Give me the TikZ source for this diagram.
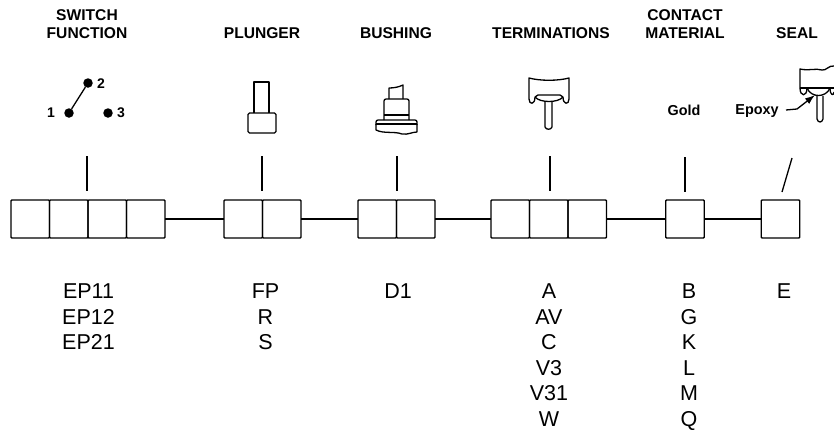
\documentclass[tikz,border=0pt]{standalone}
\usepackage{fontspec}
\setmainfont{Liberation Sans}
\usetikzlibrary{arrows.meta,positioning}
\tikzset{
  cell/.style={draw,line width=1.4pt,rounded corners=0.8pt,minimum width=38.5pt,minimum height=38pt,inner sep=0pt,outer sep=0pt},
  link/.style={line width=1.3pt},
  tick/.style={line width=1.3pt},
  heading/.style={font=\bfseries\fontsize{15.6}{18}\selectfont,align=center,inner sep=0pt},
  codes/.style={font=\fontsize{21.5}{25.5}\selectfont,align=center,inner sep=0pt,anchor=north},
  remark/.style={font=\bfseries\fontsize{14.4}{18}\selectfont,inner sep=0pt},
  digit/.style={font=\bfseries\fontsize{14}{16}\selectfont,inner sep=0pt},
  dot/.style={circle,fill=black,minimum size=9.5pt,inner sep=0pt},
  icon/.style={line width=1.3pt,line join=round},
}
\begin{document}
\begin{tikzpicture}[x=1pt,y=-1pt]
    \useasboundingbox (0,0) rectangle (834,429);
    % headings
    \node[heading] (hswitch) at (87,24) {SWITCH\\FUNCTION};
    \node[heading] (hplunger) at (262,33) {PLUNGER};
    \node[heading] (hbushing) at (396,33) {BUSHING};
    \node[heading] (hterm) at (551,33) {TERMINATIONS};
    \node[heading] (hcontact) at (685,24) {CONTACT\\MATERIAL};
    \node[heading] (hseal) at (797,33) {SEAL};
    % switch symbol
    \node[dot] (one) at (69,113) {};
    \node[dot] (two) at (88,83) {};
    \node[dot] (three) at (108,113) {};
    \draw[icon] (one) -- (two);
    \node[digit] (lone) at (51,113) {1};
    \node[digit] (ltwo) at (101,84) {2};
    \node[digit] (lthree) at (121,113) {3};
    % plunger
    \draw[icon] (254,113) -- (254,82) -- (269,82) -- (269,113);
    \draw[icon,rounded corners=1.5pt] (248,113) rectangle (276,133);
    % bushing
    \draw[icon] (389,99) -- (389,88) .. controls (394,88) and (399,87) .. (403,85) -- (403,99);
    \draw[icon,rounded corners=2pt] (384,120) -- (384,99) -- (409,99) -- (409,120);
    \draw[icon] (384,115) -- (409,115);
    \draw[icon,rounded corners=2pt] (376,125) -- (376,120) -- (417,120) -- (417,125);
    \draw[icon] (376,124) -- (417,124);
    \draw[icon] (376,124) -- (376,130) .. controls (384,134) and (394,131) .. (402,134) .. controls (408,135) and (412,132) .. (417,132) -- (417,124);
    % terminations
    \draw[icon] (529,99) -- (529,78) .. controls (540,81) and (558,81) .. (569,78) -- (569,99);
    \draw[icon] (529,99) .. controls (529,105) and (535,105) .. (535,97);
    \draw[icon] (563,97) .. controls (563,105) and (569,105) .. (569,99);
    \draw[icon] (535,97) -- (538,95) -- (560,95) -- (563,97);
    \draw[icon] (535,97) .. controls (540,103) and (558,103) .. (563,97);
    \draw[icon] (545,102) -- (545,127) .. controls (546,130) and (551,130) .. (552,127) -- (552,102);
    % seal
    \draw[icon] (800,88) -- (800,69) .. controls (808,71) and (816,68) .. (822,70) .. controls (826,71) and (829,65) .. (834,66);
    \draw[icon] (800,88) -- (834,88);
    \draw[icon] (800,88) .. controls (800,97) and (807,97) .. (807,88);
    \draw[icon] (807,88) .. controls (811,98) and (826,98) .. (830,88);
    \draw[icon] (830,88) .. controls (830,96) and (834,96) .. (834,92);
    \draw[icon] (817,96) -- (817,119) .. controls (818,123) and (822,123) .. (823,119) -- (823,96);
    % contact and seal remarks
    \node[remark] (gold) at (684,110) {Gold};
    \node[remark] (epoxy) at (757,111) {Epoxy};
    \coordinate (epoxytail) at (786,110);
    \coordinate (epoxytip) at (815,95);
    \draw[icon,-{Latex[length=10pt,width=7pt]}] (epoxytail) -- (797,109) -- (epoxytip);
    % ticks
    \coordinate (tswitch) at (87,156);
    \coordinate (bswitch) at (87,191);
    \coordinate (tplunger) at (262,156);
    \coordinate (bplunger) at (262,191);
    \coordinate (tbushing) at (397,156);
    \coordinate (bbushing) at (397,191);
    \coordinate (tterm) at (550,156);
    \coordinate (bterm) at (550,191);
    \coordinate (tcontact) at (685,157);
    \coordinate (bcontact) at (685,192);
    \coordinate (tseal) at (792,158);
    \coordinate (bseal) at (782,192);
    \draw[tick] (tswitch) -- (bswitch);
    \draw[tick] (tplunger) -- (bplunger);
    \draw[tick] (tbushing) -- (bbushing);
    \draw[tick] (tterm) -- (bterm);
    \draw[tick] (tcontact) -- (bcontact);
    \draw[tick] (tseal) -- (bseal);
    % cells
    \node[cell] (sw1) at (30.25,219) {};
    \node[cell,right=0pt of sw1] (sw2) {};
    \node[cell,right=0pt of sw2] (sw3) {};
    \node[cell,right=0pt of sw3] (sw4) {};
    \node[cell] (pl1) at (243.25,219) {};
    \node[cell,right=0pt of pl1] (pl2) {};
    \node[cell] (bu1) at (377.25,219) {};
    \node[cell,right=0pt of bu1] (bu2) {};
    \node[cell] (te1) at (510.25,219) {};
    \node[cell,right=0pt of te1] (te2) {};
    \node[cell,right=0pt of te2] (te3) {};
    \node[cell] (co1) at (685,219) {};
    \node[cell] (se1) at (780.5,219) {};
    \draw[link] (sw4) -- (pl1);
    \draw[link] (pl2) -- (bu1);
    \draw[link] (bu2) -- (te1);
    \draw[link] (te3) -- (co1);
    \draw[link] (co1) -- (se1);
    % code lists
    \node[codes] (lswitch) at (88.5,283.5) {EP11\\EP12\\EP21};
    \node[codes] (lplunger) at (265.5,283.5) {FP\\R\\S};
    \node[codes] (lbushing) at (398,283.5) {D1};
    \node[codes] (lterm) at (549,283.5) {A\\AV\\C\\V3\\V31\\W};
    \node[codes] (lcontact) at (689,283.5) {B\\G\\K\\L\\M\\Q};
    \node[codes] (lseal) at (784,283.5) {E};
  \end{tikzpicture}
\end{document}
